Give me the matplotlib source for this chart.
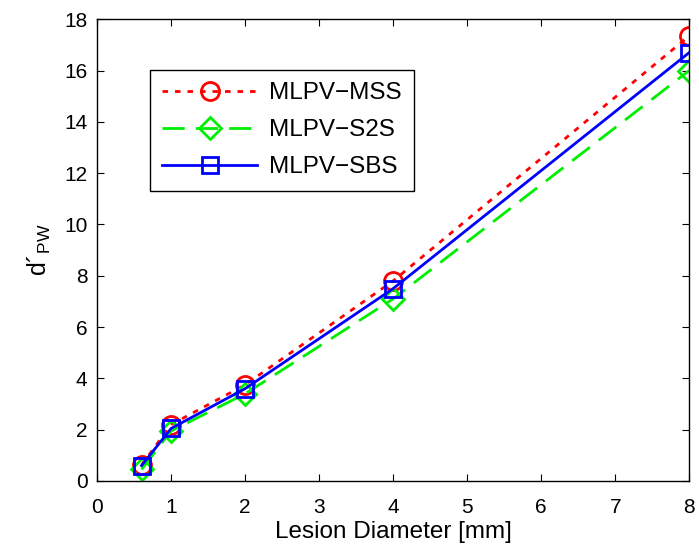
import matplotlib
matplotlib.use("Agg")
import matplotlib.pyplot as plt

plt.rcParams['font.family'] = ['Liberation Sans', 'DejaVu Sans']
plt.rcParams['mathtext.fontset'] = 'custom'
plt.rcParams['mathtext.rm'] = 'Liberation Sans'

# lesion diameters [mm]
diam = [0.6, 1, 2, 4, 8]
mss = [0.62, 2.2, 3.75, 7.8, 17.35]
s2s = [0.45, 1.95, 3.4, 7.1, 16.0]
sbs = [0.6, 2.05, 3.6, 7.5, 16.7]

fig = plt.figure(figsize=(6.99, 5.5), dpi=100)
ax = fig.add_axes([0.139, 0.1255, 0.847, 0.8395])

ax.plot(diam, mss, linestyle=(0, (2, 2.5)), color='red', lw=2, marker='o', ms=13,
        mfc='none', mew=2, label='MLPV\u2212MSS')
ax.plot(diam, s2s, linestyle=(0, (8, 4)), color='#00ee00', lw=2, marker='D', ms=11,
        mfc='none', mew=2, label='MLPV\u2212S2S')
ax.plot(diam, sbs, linestyle='-', color='blue', lw=2, marker='s', ms=11,
        mfc='none', mew=2, label='MLPV\u2212SBS')

ax.set_xlim(0, 8)
ax.set_ylim(0, 18)
ax.set_xticks(range(0, 9))
ax.set_yticks(range(0, 19, 2))
ax.tick_params(direction='in', top=True, right=True, labelsize=15, length=5)
ax.tick_params(axis='x', pad=12)
ax.tick_params(axis='y', pad=7)
for s in ax.spines.values():
    s.set_linewidth(1)
ax.set_xlabel('Lesion Diameter [mm]', fontsize=17.5, labelpad=3)
ax.set_ylabel('d\u00b4$_{\\mathrm{PW}}$', fontsize=18, labelpad=8)

leg = ax.legend(loc='upper left', bbox_to_anchor=(0.0895, 0.89), fontsize=17.5,
                fancybox=False, edgecolor='black', framealpha=1,
                handlelength=3.9, handletextpad=0.5, borderpad=0.5,
                labelspacing=0.62, borderaxespad=0)
leg.get_frame().set_linewidth(1)

fig.savefig('out.png', dpi=100)
